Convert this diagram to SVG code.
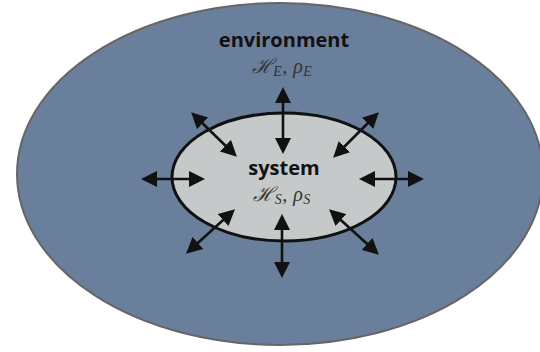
<svg xmlns="http://www.w3.org/2000/svg" width="540" height="352" viewBox="0 0 540 352">
  <defs>
    <marker id="ah" viewBox="0 0 16 16" refX="12" refY="8" markerWidth="16" markerHeight="16" markerUnits="userSpaceOnUse" orient="auto-start-reverse">
      <path d="M0,0 L16,8 L0,16 z" fill="#111"/>
    </marker>
  </defs>
  <style>
    .lbl { font-family: "Open Sans", "DejaVu Sans", sans-serif; font-weight: bold; font-size: 20px; fill: #111; text-anchor: middle; }
    .math { font-family: "Liberation Serif", "DejaVu Serif", serif; font-style: italic; font-size: 20px; fill: #333; text-anchor: middle; letter-spacing: 0.5px; }
    .sub { font-size: 14px; }
    .conn line { stroke: #111; stroke-width: 2.6; marker-start: url(#ah); marker-end: url(#ah); }
  </style>
  <rect width="540" height="352" fill="#ffffff"/>
  <g id="environment">
    <ellipse cx="280" cy="174" rx="263" ry="171" fill="#6a7f9c" stroke="#666" stroke-width="2"/>
    <text class="lbl" x="284" y="47">environment</text>
    <text class="math" x="282" y="73">ℋ<tspan class="sub" dy="3">E</tspan><tspan dy="-3">, ρ</tspan><tspan class="sub" dy="3">E</tspan></text>
  </g>
  <g id="system">
    <ellipse cx="284" cy="177" rx="112" ry="64" fill="#c6c9c9" stroke="#111" stroke-width="3"/>
    <text class="lbl" x="284" y="175">system</text>
    <text class="math" x="282" y="201">ℋ<tspan class="sub" dy="3">S</tspan><tspan dy="-3">, ρ</tspan><tspan class="sub" dy="3">S</tspan></text>
  </g>
  <g id="connectors" class="conn">
    <line x1="283" y1="91" x2="283" y2="150"/>
    <line x1="282" y1="218" x2="282" y2="274"/>
    <line x1="145" y1="179" x2="201" y2="179"/>
    <line x1="363" y1="179" x2="420" y2="179"/>
    <line x1="194" y1="115" x2="234" y2="154"/>
    <line x1="376" y1="115" x2="336" y2="155"/>
    <line x1="232" y1="212" x2="189" y2="251"/>
    <line x1="332" y1="212" x2="376" y2="252"/>
  </g>
</svg>
